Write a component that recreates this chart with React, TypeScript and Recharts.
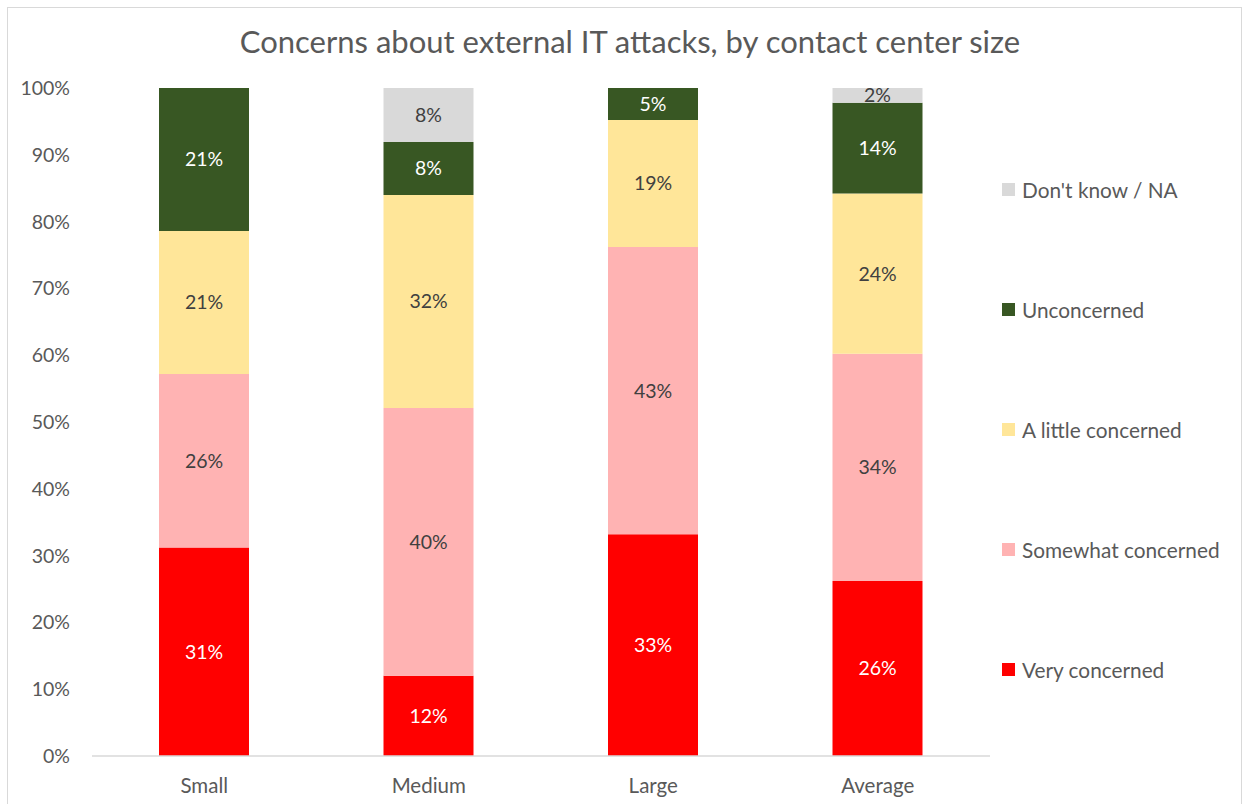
import React from 'react';
import { BarChart, Bar, XAxis, YAxis, LabelList, Legend } from 'recharts';

const categories = ['Small', 'Medium', 'Large', 'Average'];
const veryConcerned = [0.312, 0.12, 0.332, 0.262];
const somewhatConcerned = [0.26, 0.401, 0.43, 0.34];
const littleConcerned = [0.214, 0.319, 0.19, 0.24];
const unconcerned = [0.214, 0.079, 0.048, 0.136];
const dontKnow = [0, 0.081, 0, 0.022];
const yTicks = [0, 0.1, 0.2, 0.3, 0.4, 0.5, 0.6, 0.7, 0.8, 0.9, 1];

const data = categories.map((c, i) => ({
  name: c,
  very: veryConcerned[i],
  somewhat: somewhatConcerned[i],
  little: littleConcerned[i],
  un: unconcerned[i],
  dk: dontKnow[i],
}));

const series = [
  { key: 'very', name: 'Very concerned', color: '#FF0000', label: '#FFFFFF' },
  { key: 'somewhat', name: 'Somewhat concerned', color: '#FFB3B3', label: '#404040' },
  { key: 'little', name: 'A little concerned', color: '#FFE699', label: '#404040' },
  { key: 'un', name: 'Unconcerned', color: '#385723', label: '#FFFFFF' },
  { key: 'dk', name: "Don't know / NA", color: '#D9D9D9', label: '#404040' },
];

const FONT = 'Lato, "Open Sans", sans-serif';
const fmt = (v: any) => (v ? `${Math.round(v * 100)}%` : '');

const LegendContent = () => (
  <div style={{ position: 'absolute', left: 1002, top: 177, fontFamily: FONT }}>
    {[...series].reverse().map((s, i) => (
      <div key={s.key} style={{ position: 'absolute', top: i * 120, left: 0, display: 'flex', alignItems: 'center', whiteSpace: 'nowrap' }}>
        <div style={{ width: 13, height: 13, background: s.color, marginRight: 7 }} />
        <span style={{ fontSize: 20.8, color: '#595959' }}>{s.name}</span>
      </div>
    ))}
  </div>
);

export default function App() {
  return (
    <div style={{ position: 'absolute', left: 0, top: 0, width: 1250, height: 804, background: '#fff' }}>
      <div style={{ position: 'absolute', left: 7, top: 7, width: 1235, height: 800, border: '1px solid #D9D9D9', boxSizing: 'border-box' }} />
      <div style={{ position: 'absolute', left: 0, top: 22, width: 1260, textAlign: 'center', fontFamily: FONT, fontSize: 31, color: '#595959' }}>
        Concerns about external IT attacks, by contact center size
      </div>
      <div style={{ position: 'absolute', left: 0, top: 0 }}>
        <BarChart width={1250} height={804} data={data} margin={{ top: 88, right: 260, bottom: 18, left: 22 }} barSize={90}>
          <XAxis dataKey="name" axisLine={{ stroke: '#D9D9D9', strokeWidth: 1.5 }} tickLine={false} height={30}
            tick={{ fill: '#595959', fontSize: 20.5, fontFamily: FONT, dy: 14 }} />
          <YAxis type="number" domain={[0, 1]} ticks={yTicks} width={70} axisLine={false} tickLine={false}
            tickFormatter={(v: number) => `${Math.round(v * 100)}%`}
            tick={{ fill: '#595959', fontSize: 19.5, fontFamily: FONT, dx: -14 }} />
          <Legend content={<LegendContent />} wrapperStyle={{ position: 'absolute', left: 0, top: 0, width: 0, height: 0 }} />
          {series.map((s) => (
            <Bar key={s.key} dataKey={s.key} name={s.name} stackId="a" fill={s.color} isAnimationActive={false}>
              <LabelList dataKey={s.key} position="center" formatter={fmt} fill={s.label} fontSize={19.5} fontFamily={FONT} />
            </Bar>
          ))}
        </BarChart>
      </div>
    </div>
  );
}
